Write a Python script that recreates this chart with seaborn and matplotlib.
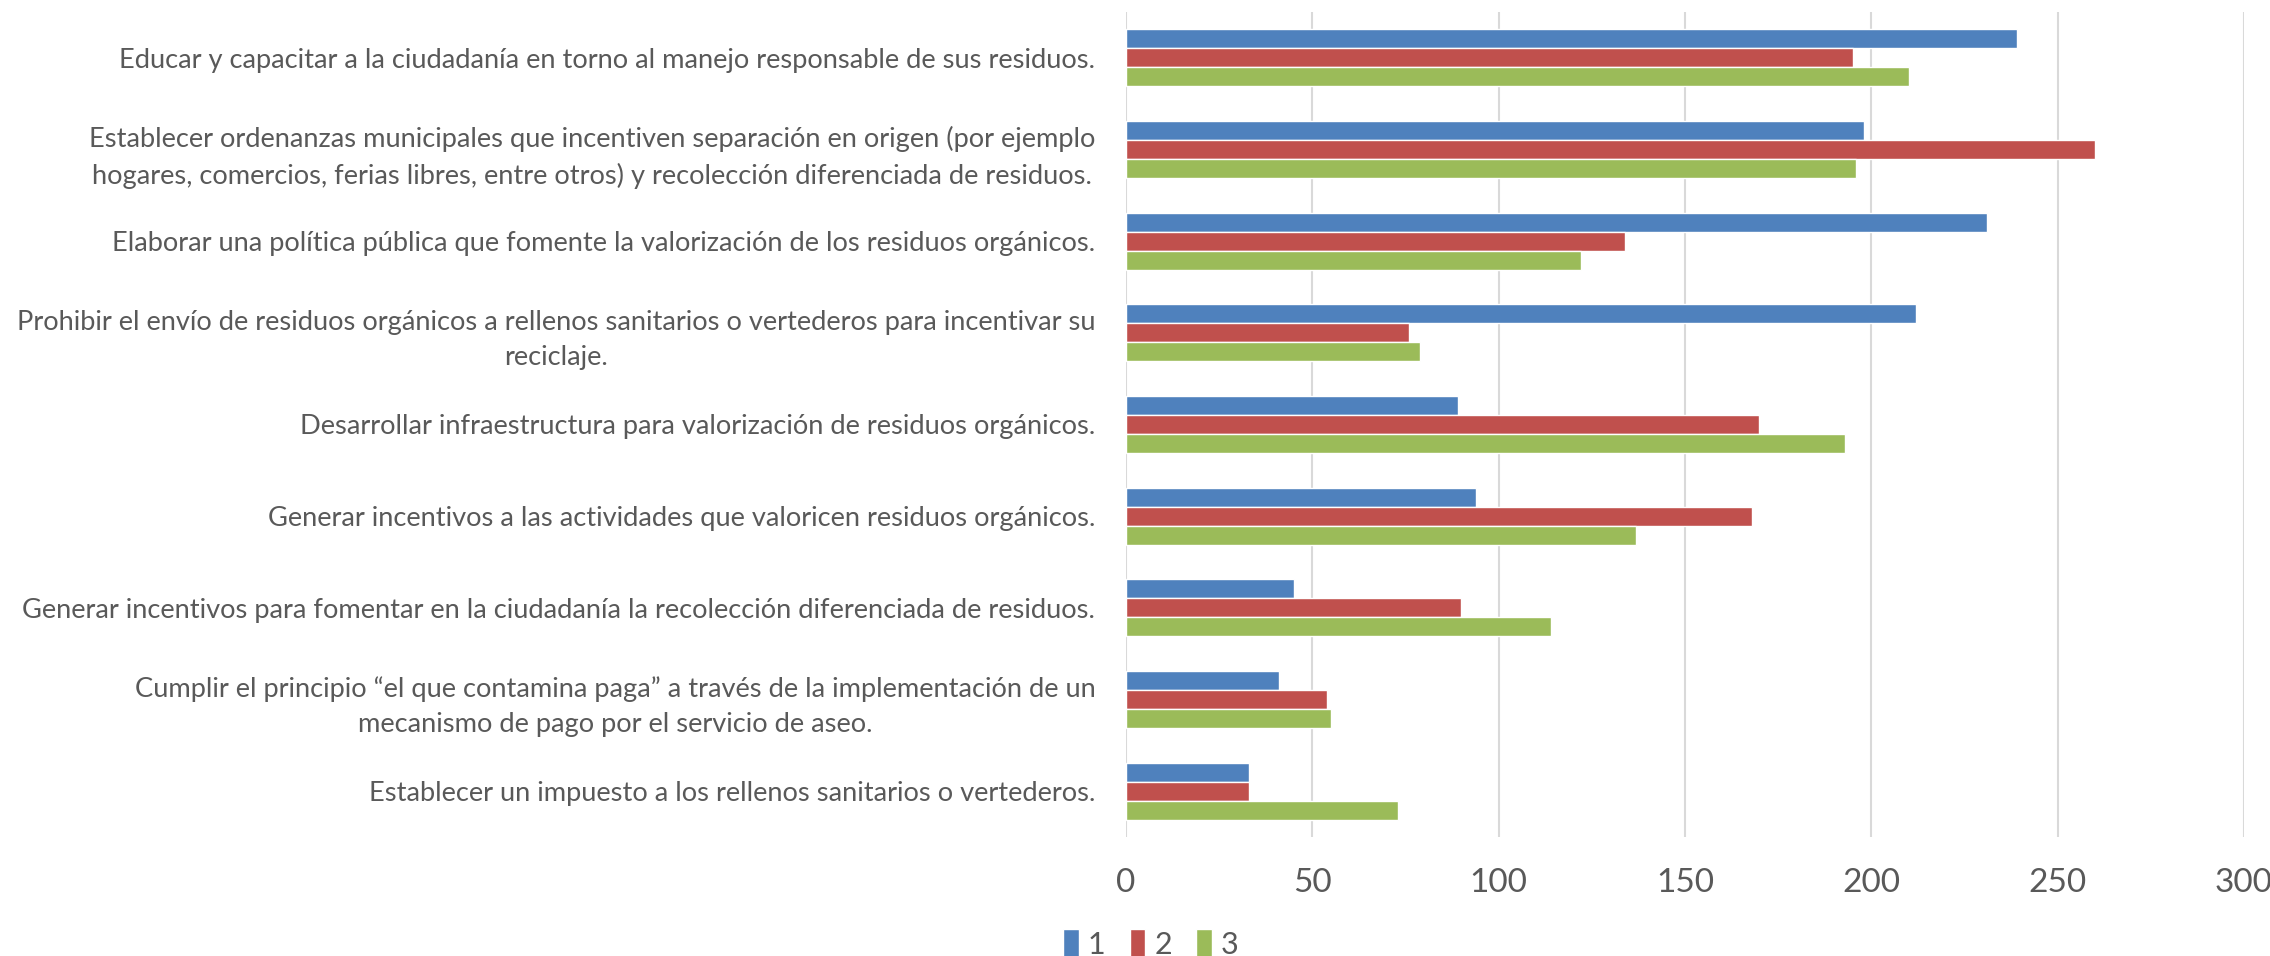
import matplotlib
matplotlib.use('Agg')

import matplotlib.pyplot as plt
import seaborn as sns
import pandas as pd

# categories top to bottom
categories = [
    "Educar y capacitar a la ciudadanía en torno al manejo responsable de sus residuos.",
    "Establecer ordenanzas municipales que incentiven separación en origen (por ejemplo\nhogares, comercios, ferias libres, entre otros) y recolección diferenciada de residuos.",
    "Elaborar una política pública que fomente la valorización de los residuos orgánicos.",
    "Prohibir el envío de residuos orgánicos a rellenos sanitarios o vertederos para incentivar su\nreciclaje.",
    "Desarrollar infraestructura para valorización de residuos orgánicos.",
    "Generar incentivos a las actividades que valoricen residuos orgánicos.",
    "Generar incentivos para fomentar en la ciudadanía la recolección diferenciada de residuos.",
    "Cumplir el principio “el que contamina paga” a través de la implementación de un\nmecanismo de pago por el servicio de aseo.",
    "Establecer un impuesto a los rellenos sanitarios o vertederos.",
]
series_names = ["1", "2", "3"]
values_1 = [239, 198, 231, 212, 89, 94, 45, 41, 33]
values_2 = [195, 260, 134, 76, 170, 168, 90, 54, 33]
values_3 = [210, 196, 122, 79, 193, 137, 114, 55, 73]
x_ticks = [0, 50, 100, 150, 200, 250, 300]

colors = ["#4F81BD", "#C0504D", "#9BBB59"]

df = pd.DataFrame({
    "categoria": categories * 3,
    "serie": [s for s in series_names for _ in categories],
    "valor": values_1 + values_2 + values_3,
})

sns.set_style("white")
plt.rcParams['font.family'] = ['Lato', 'DejaVu Sans']
text_color = "#595959"

fig = plt.figure(figsize=(22.7, 9.56), dpi=100)
ax = fig.add_axes([0.496, 0.1245, 0.4925, 0.863])

sns.barplot(data=df, y="categoria", x="valor", hue="serie", order=categories,
            hue_order=series_names, palette=colors, width=0.62, orient="h",
            saturation=1, ax=ax)

ax.set_xlim(0, 300)
ax.set_xticks(x_ticks)
ax.set_xticklabels([str(t) for t in x_ticks], fontsize=24, color=text_color)
ax.tick_params(axis="x", length=0, pad=22)
ax.tick_params(axis="y", length=0, pad=22, labelsize=19.6, labelcolor=text_color)
for t in ax.get_yticklabels():
    t.set_multialignment("center")
    t.set_linespacing(1.5)
ax.set_xlabel("")
ax.set_ylabel("")
ax.xaxis.grid(True, color="#D9D9D9", linewidth=1.5)
ax.set_axisbelow(True)
for s in ax.spines.values():
    s.set_visible(False)

handles, labels = ax.get_legend_handles_labels()
ax.legend_.remove()
fig.legend(handles, labels, loc="center", bbox_to_anchor=(0.507, 0.0125), ncol=3,
           frameon=False, fontsize=22, labelcolor=text_color, handlelength=0.5,
           handleheight=1.0, handletextpad=0.3, columnspacing=0.8)

fig.savefig("out.png", dpi=100)
plt.close(fig)
